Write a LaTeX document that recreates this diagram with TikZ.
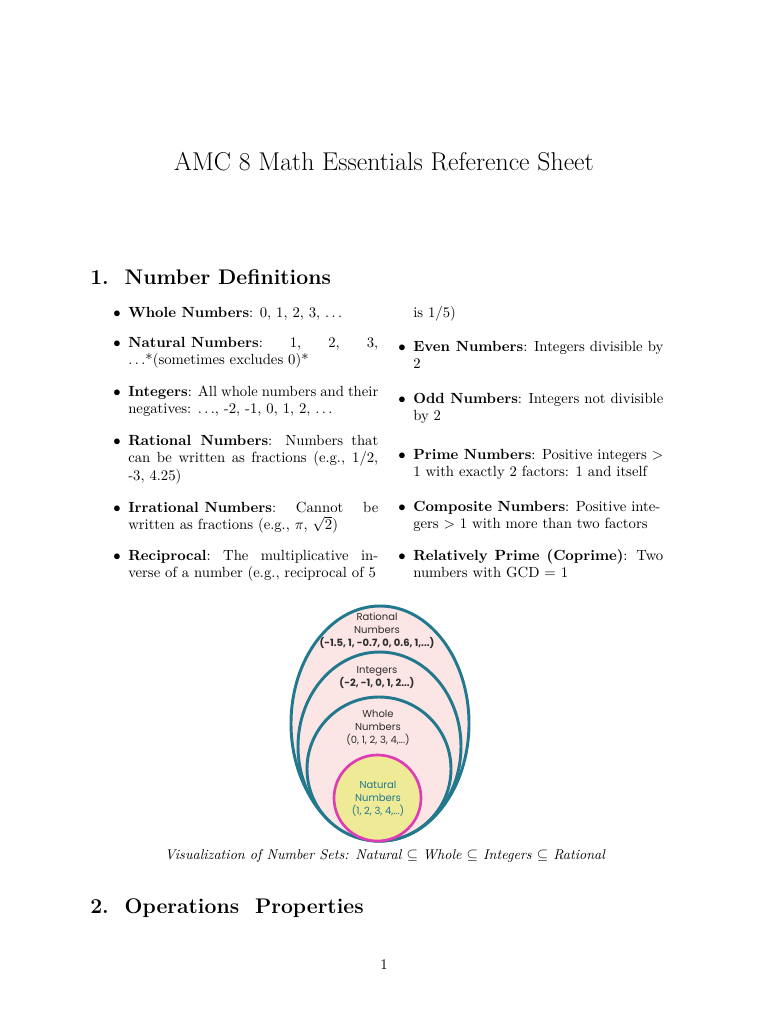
\documentclass[tikz,border=0pt]{standalone}
\usepackage{fontspec}
\usepackage{amssymb}
\newfontfamily\dgfont{Poppins}
\definecolor{teal1}{RGB}{34,120,140}
\definecolor{pink1}{RGB}{252,229,229}
\definecolor{yel1}{RGB}{238,234,150}
\definecolor{mag1}{RGB}{222,60,180}
\definecolor{dg}{RGB}{45,45,45}
\tikzset{
 itm/.style={anchor=base west,inner sep=0pt,text width=170pt,align=justify,font=\normalsize},
 bul/.style={anchor=base,inner sep=0pt},
 ring/.style={line width=2pt,draw=teal1,fill=pink1},
 lab/.style={font=\dgfont\fontsize{6.8}{8.8}\selectfont,text=dg,align=center,inner sep=0pt},
}
\begin{document}
\begin{tikzpicture}[x=0.68pt,y=-0.68pt]
\useasboundingbox (0,0) rectangle (768,1024);
\node[inner sep=0pt,font=\fontsize{17.5}{20}\selectfont] (title) at (384,162) {AMC 8 Math Essentials Reference Sheet};
\node[anchor=base west,inner sep=0pt,font=\Large\bfseries] (s1) at (90,284) {1.\ \ Number Definitions};
% left column
\node[bul] (b1) at (117,317) {$\bullet$};
\node[itm] (l1) at (128,317) {\textbf{Whole Numbers}: 0, 1, 2, 3, $\dots$};
\node[bul] (b2) at (117,347) {$\bullet$};
\node[itm] (l2) at (128,347) {\textbf{Natural Numbers}:\hfill 1,\hfill 2,\hfill 3,\\$\dots$*(sometimes excludes 0)*};
\node[bul] (b3) at (117,396) {$\bullet$};
\node[itm] (l3) at (128,396) {\textbf{Integers}: All whole numbers and their\\negatives: $\dots$, -2, -1, 0, 1, 2, $\dots$};
\node[bul] (b4) at (117,445) {$\bullet$};
\node[itm] (l4) at (128,445) {\textbf{Rational Numbers}: Numbers that can be written as fractions (e.g., 1/2, -3, 4.25)};
\node[bul] (b5) at (117,512) {$\bullet$};
\node[itm] (l5) at (128,512) {\textbf{Irrational Numbers}:\hfill Cannot\hfill be\\written as fractions (e.g., $\pi$, $\sqrt{2}$)};
\node[bul] (b6) at (117,560) {$\bullet$};
\node[itm] (l6) at (128,560) {\textbf{Reciprocal}:\hfill The\hfill multiplicative\hfill in-\\verse of a number (e.g., reciprocal of 5};
% right column
\node[itm] (r0) at (413,317) {is 1/5)};
\node[bul] (c1) at (402,351) {$\bullet$};
\node[itm] (r1) at (413,351) {\textbf{Even Numbers}: Integers divisible by 2};
\node[bul] (c2) at (402,403) {$\bullet$};
\node[itm] (r2) at (413,403) {\textbf{Odd Numbers}: Integers not divisible by 2};
\node[bul] (c3) at (402,459) {$\bullet$};
\node[itm] (r3) at (413,459) {\textbf{Prime Numbers}: Positive integers $>$ 1 with exactly 2 factors: 1 and itself};
\node[bul] (c4) at (402,511) {$\bullet$};
\node[itm] (r4) at (413,511) {\textbf{Composite Numbers}: Positive inte-\\gers $>$ 1 with more than two factors};
\node[bul] (c5) at (402,560) {$\bullet$};
\node[itm] (r5) at (413,560) {\textbf{Relatively Prime (Coprime)}: Two numbers with GCD = 1};
% diagram
\draw[ring] (380,723.5) ellipse (89 and 117.5);
\draw[ring] (379.5,746.5) ellipse (81.5 and 94.5);
\draw[ring] (379,769) ellipse (72 and 72);
\draw[line width=1.8pt,draw=mag1,fill=yel1] (377.5,798) ellipse (43.5 and 43);
\node[lab] (rat) at (377,631) {Rational\\Numbers\\\textbf{(-1.5, 1, -0.7, 0, 0.6, 1,...)}};
\node[lab] (int) at (377,678) {Integers\\\textbf{(-2, -1, 0, 1, 2...)}};
\node[lab] (who) at (378,728) {Whole\\Numbers\\(0, 1, 2, 3, 4,...)};
\node[lab,text=teal1] (nat) at (378,799) {Natural\\Numbers\\(1, 2, 3, 4,...)};
\node[inner sep=0pt,font=\fontsize{9.6}{11}\selectfont\itshape] (cap) at (385,856) {Visualization of Number Sets: Natural $\subseteq$ Whole $\subseteq$ Integers $\subseteq$ Rational};
\node[anchor=base west,inner sep=0pt,font=\Large\bfseries] (s2) at (90,913) {2.\ \ Operations\ \ Properties};
\node[inner sep=0pt] (pg) at (384,965) {1};
\end{tikzpicture}
\end{document}
